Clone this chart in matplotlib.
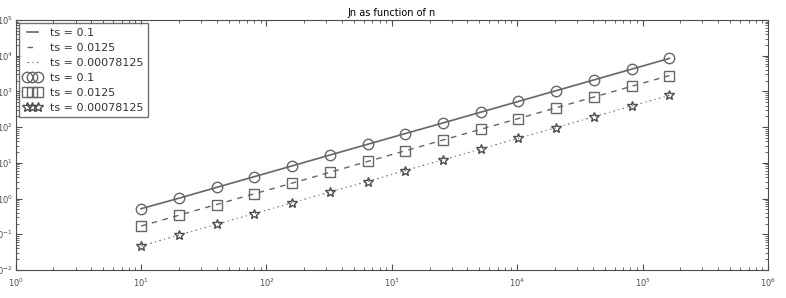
import matplotlib
matplotlib.use("Agg")
import matplotlib.pyplot as plt

# n values (time steps count)
n = [10, 20, 40, 80, 160, 320, 640, 1280, 2560, 5120, 10240, 20480, 40960, 81920, 163840]

# Jn
jn_01 = [0.52, 1.02, 2.05, 4.1, 8.2, 16.5, 33, 66, 131, 262, 525, 1050, 2100, 4200, 8400]
jn_0125 = [0.17, 0.34, 0.68, 1.36, 2.7, 5.4, 10.9, 21.8, 43.5, 87, 174, 348, 696, 1390, 2780]
jn_00078 = [0.047, 0.095, 0.19, 0.38, 0.76, 1.52, 3.0, 6.1, 12.2, 24.4, 48.8, 97, 195, 390, 780]

labels = ["ts = 0.1", "ts = 0.0125", "ts = 0.00078125"]

plt.rcParams['font.size'] = 7
fig = plt.figure(figsize=(7.86, 2.98), dpi=100)
ax = fig.add_axes([0.020, 0.094, 0.957, 0.839])

gray = '0.4'
ax.plot(n, jn_01, '-', color=gray, lw=1.2, label=labels[0])
ax.plot(n, jn_0125, '--', color=gray, lw=1.0, dashes=(4, 4), label=labels[1])
ax.plot(n, jn_00078, '-.', color=gray, lw=0.8, dashes=(1.5, 3, 1, 3), label=labels[2])
ax.plot(n, jn_01, 'o', mfc='none', mec=gray, ms=7.5, mew=1.0, label=labels[0])
ax.plot(n, jn_0125, 's', mfc='none', mec=gray, ms=7, mew=1.0, label=labels[1])
ax.plot(n, jn_00078, '*', mfc='none', mec='0.3', ms=7.5, mew=1.0, label=labels[2])

ax.set_xscale('log')
ax.set_yscale('log')
ax.set_xlim(1, 1e6)
ax.set_ylim(1e-2, 1e5)
ax.set_title("Jn as function of n", fontsize=7, pad=3)

ax.tick_params(which='both', direction='in', top=True, right=True, labelsize=6, colors='0.3')
ax.tick_params(which='major', length=4)
ax.tick_params(which='minor', length=2)
ax.tick_params(axis='x', pad=5)
ax.tick_params(axis='y', pad=2)
for s in ax.spines.values():
    s.set_color('0.3')

leg = ax.legend(loc='upper left', numpoints=3, fontsize=8, handlelength=1.6,
                handletextpad=0.8, fancybox=False, borderaxespad=0.3,
                labelspacing=0.45)
leg.get_frame().set_edgecolor('0.3')
for t in leg.get_texts():
    t.set_color('0.2')

fig.savefig("out.png", dpi=100, facecolor='white')
